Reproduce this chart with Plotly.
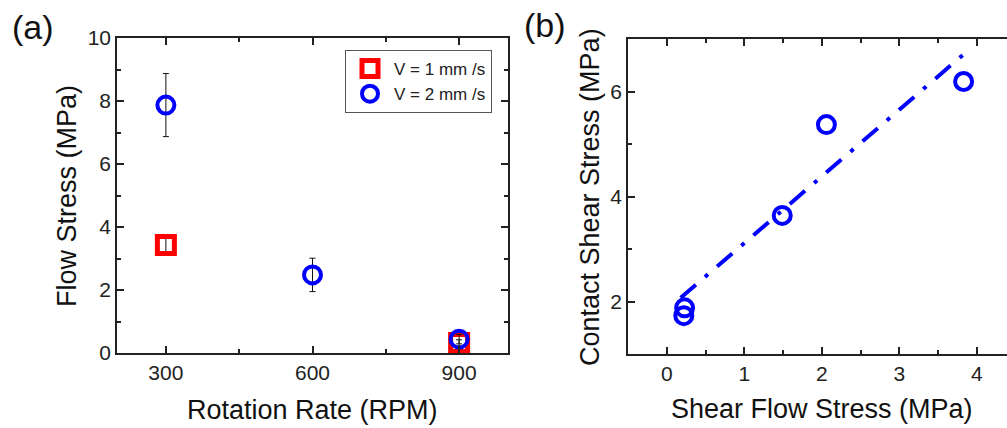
import plotly.graph_objects as go

# ---- data: panel (a) ----
rpm_v1 = [300, 900]
stress_v1 = [3.43, 0.32]
err_v1 = [0.25, 0.10]

rpm_v2 = [300, 600, 900]
stress_v2 = [7.87, 2.48, 0.44]
err_v2 = [1.0, 0.53, 0.15]

x_ticks_a = [300, 600, 900]
y_ticks_a = [0, 2, 4, 6, 8, 10]

# ---- data: panel (b) ----
shear_flow = [0.22, 0.23, 1.49, 2.06, 3.83]
contact_shear = [1.73, 1.88, 3.64, 5.37, 6.19]
fit_x = [0.18, 3.84]
fit_y = [2.07, 6.72]

x_ticks_b = [0, 1, 2, 3, 4]
y_ticks_b = [2, 4, 6]

W, H = 1007, 428
FONT = "Liberation Sans, Arial, sans-serif"

def px(x):
    return x / W

def py(y):
    return 1 - y / H

fig = go.Figure()

fig.add_trace(go.Scatter(
    x=rpm_v1, y=stress_v1, mode="markers", name="V = 1 mm /s",
    marker=dict(symbol="square-open", size=17, color="#ff0000", line=dict(width=5, color="#ff0000")),
    error_y=dict(type="data", array=err_v1, color="#111111", thickness=1, width=3),
    xaxis="x", yaxis="y",
))
fig.add_trace(go.Scatter(
    x=rpm_v2, y=stress_v2, mode="markers", name="V = 2 mm /s",
    marker=dict(symbol="circle-open", size=17, color="#0000ff", line=dict(width=4, color="#0000ff")),
    error_y=dict(type="data", array=err_v2, color="#111111", thickness=1, width=3),
    xaxis="x", yaxis="y",
))

fig.add_trace(go.Scatter(
    x=fit_x, y=fit_y, mode="lines", showlegend=False,
    line=dict(color="#0000ff", width=4, dash="20px,12px,4px,12px"),
    xaxis="x2", yaxis="y2",
))
fig.add_trace(go.Scatter(
    x=shear_flow, y=contact_shear, mode="markers", showlegend=False,
    marker=dict(symbol="circle-open", size=17, color="#0000ff", line=dict(width=4, color="#0000ff")),
    xaxis="x2", yaxis="y2",
))

axis_common = dict(
    showgrid=False, zeroline=False, showline=True, linecolor="#222222", linewidth=1.5,
    ticks="inside", ticklen=7, tickwidth=1.5, tickcolor="#222222",
    tickfont=dict(family=FONT, size=21, color="#222222"),
    automargin=False,
)

fig.update_layout(
    width=W, height=H, autosize=False,
    margin=dict(l=0, r=0, t=0, b=0, pad=0, autoexpand=False),
    paper_bgcolor="white", plot_bgcolor="white",
    font=dict(family=FONT, color="#222222"),
    xaxis=dict(domain=[px(117), px(508)], range=[200, 1000], tickvals=x_ticks_a,
               mirror="ticks", anchor="y",
               minor=dict(ticks="inside", ticklen=4, tickwidth=1.5, dtick=150, tick0=0, tickcolor="#222222"),
               **axis_common),
    yaxis=dict(domain=[py(353), py(38)], range=[0, 10], tickvals=y_ticks_a,
               mirror="ticks", anchor="x",
               minor=dict(ticks="inside", ticklen=4, tickwidth=1.5, dtick=1, tick0=0, tickcolor="#222222"),
               **axis_common),
    xaxis2=dict(domain=[px(628), 1.0], range=[-0.5, 4.39], tickvals=x_ticks_b,
                mirror="ticks", anchor="y2",
                minor=dict(ticks="inside", ticklen=4, tickwidth=1.5, dtick=0.5, tick0=0, tickcolor="#222222"),
                **axis_common),
    yaxis2=dict(domain=[py(354), py(39)], range=[1, 7], tickvals=y_ticks_b,
                mirror=False, anchor="x2",
                minor=dict(ticks="inside", ticklen=4, tickwidth=1.5, dtick=1, tick0=0, tickcolor="#222222"),
                **axis_common),
    legend=dict(x=px(345), y=py(50), xanchor="left", yanchor="top",
                bgcolor="white", bordercolor="#555555", borderwidth=1,
                font=dict(family=FONT, size=17, color="#222222"),
                tracegroupgap=0, itemwidth=38),
    showlegend=True,
)

annots = [
    dict(text="(a)", x=px(33), y=py(27), size=34, angle=0),
    dict(text="(b)", x=px(545), y=py(25), size=34, angle=0),
    dict(text="Flow Stress (MPa)", x=px(67), y=py(196), size=27, angle=-90),
    dict(text="Rotation Rate (RPM)", x=px(312), y=py(410), size=27, angle=0),
    dict(text="Contact Shear Stress (MPa)", x=px(590), y=py(197), size=27, angle=-90),
    dict(text="Shear Flow Stress (MPa)", x=px(822), y=py(409), size=27, angle=0),
]
for a in annots:
    fig.add_annotation(text=a["text"], x=a["x"], y=a["y"], xref="paper", yref="paper",
                       xanchor="center", yanchor="middle", showarrow=False, textangle=a["angle"],
                       font=dict(family=FONT, size=a["size"], color="#111111"))

fig.write_html("out.html")
